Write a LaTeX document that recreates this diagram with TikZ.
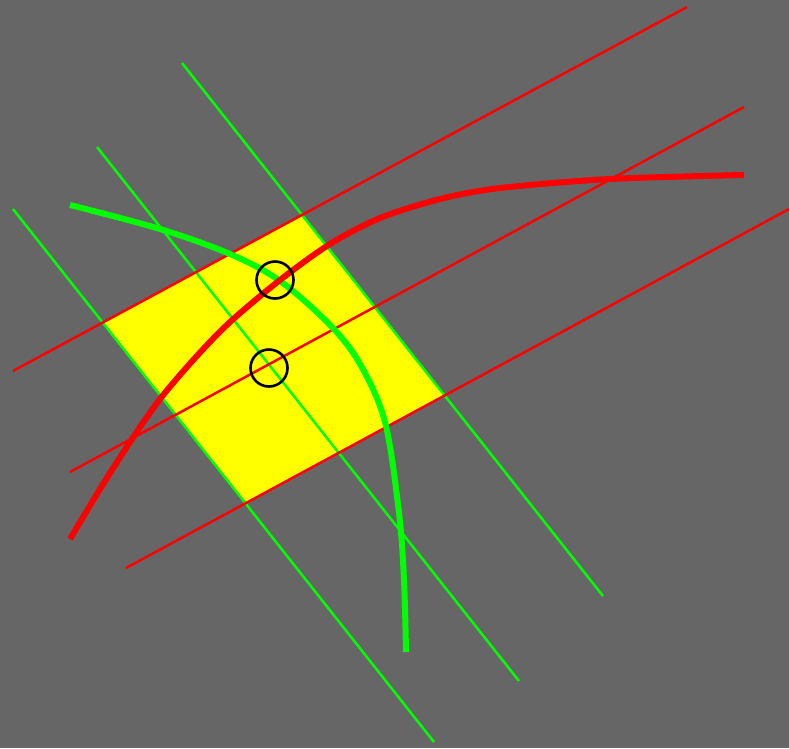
\documentclass[tikz,border=0pt]{standalone}
\usetikzlibrary{calc}
\definecolor{bg}{HTML}{666666}
\definecolor{pure red}{HTML}{FF0000}
\definecolor{pure green}{HTML}{00FF00}
\definecolor{pure yellow}{HTML}{FFFF00}
\definecolor{edgeyellow}{HTML}{E8D000}
\tikzset{
  redline/.style={draw=pure red, line width=2.5pt},
  greenline/.style={draw=pure green, line width=2.5pt},
  redcurve/.style={draw=pure red, line width=6pt},
  greencurve/.style={draw=pure green, line width=6pt},
  marker/.style={draw=black, line width=2.6pt},
}
\begin{document}
\begin{tikzpicture}[x=1pt,y=-1pt]
\fill[bg] (0,0) rectangle (789,748);
\useasboundingbox (0,0) rectangle (789,748);
% line end points
\coordinate (r1a) at (13,371);  \coordinate (r1b) at (687,7);
\coordinate (r2a) at (70,472);  \coordinate (r2b) at (744,107);
\coordinate (r3a) at (126,568); \coordinate (r3b) at (789,209);
\coordinate (g1a) at (182,63);  \coordinate (g1b) at (603,596);
\coordinate (g2a) at (97,147);  \coordinate (g2b) at (519,681);
\coordinate (g3a) at (13,209);  \coordinate (g3b) at (434,742);
% yellow quadrilateral
\coordinate (q1) at (intersection of r1a--r1b and g3a--g3b);
\coordinate (q2) at (intersection of r1a--r1b and g1a--g1b);
\coordinate (q3) at (intersection of r3a--r3b and g1a--g1b);
\coordinate (q4) at (intersection of r3a--r3b and g3a--g3b);
\filldraw[fill=pure yellow, draw=edgeyellow, line width=1.5pt] (q1) -- (q2) -- (q3) -- (q4) -- cycle;
% green lines
\draw[greenline] (g1a) -- (g1b);
\draw[greenline] (g2a) -- (g2b);
\draw[greenline] (g3a) -- (g3b);
% red lines
\draw[redline] (r1a) -- (r1b);
\draw[redline] (r2a) -- (r2b);
\draw[redline] (r3a) -- (r3b);
% thick curves
\draw[greencurve] plot[smooth, tension=0.55] coordinates {(70,205) (160,229) (230,254) (280,281) (330,325) (360,364) (385,422) (399,513) (404,580) (406,652)};
\draw[redcurve] plot[smooth, tension=0.5] coordinates {(70,539) (100,489) (130,442) (160,399) (195,358) (230,322) (280,280) (330,244) (380,218) (440,199) (500,188) (610,179) (744,175)};
% circles
\node[marker, circle, minimum size=37pt, inner sep=0pt] (c1) at (275,280) {};
\node[marker, circle, minimum size=37pt, inner sep=0pt] (c2) at (269,368) {};
\end{tikzpicture}
\end{document}
